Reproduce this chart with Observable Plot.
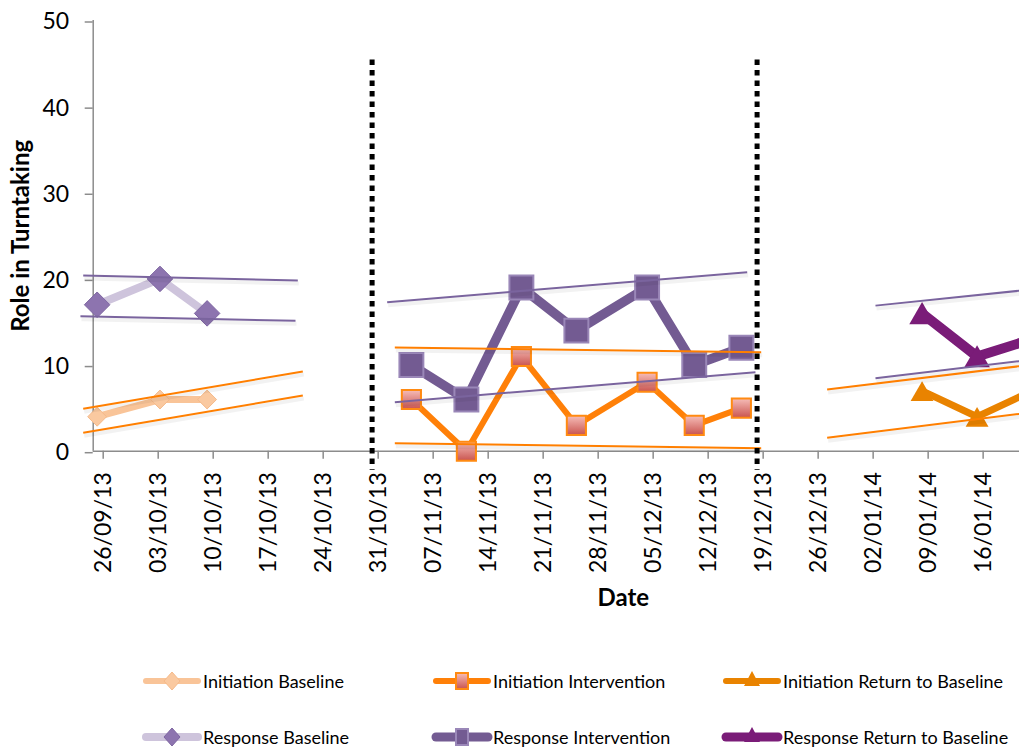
<!DOCTYPE html>
<html><head><meta charset="utf-8">
<script src="https://cdn.jsdelivr.net/npm/d3@7"></script>
<script src="https://cdn.jsdelivr.net/npm/@observablehq/plot@0.6"></script>
<style>
html,body{margin:0;padding:0;background:#fff;overflow:hidden;}
#wrap{position:relative;width:1019px;height:749px;font-family:Lato,sans-serif;}
.leg{position:absolute;display:flex;align-items:center;font-size:18px;color:#000;white-space:nowrap;height:30px;}
.leg svg{display:block;}
</style></head><body>
<svg width="0" height="0" style="position:absolute">
  <defs>
    <linearGradient id="sqFill" x1="0" y1="0" x2="0" y2="1">
      <stop offset="0" stop-color="#F6BDB8"/>
      <stop offset="1" stop-color="#C9544F"/>
    </linearGradient>
  </defs>
</svg>
<div id="wrap"><div id="chart"></div></div>
<script>
// ---------------- data ----------------
const baselineDates = ["2013-09-26", "2013-10-04", "2013-10-10"];
const initiationBaseline = [4, 6, 6];
const responseBaseline = [17, 20, 16];

const interventionDates = ["2013-11-05", "2013-11-12", "2013-11-19", "2013-11-26", "2013-12-05", "2013-12-11", "2013-12-17"];
const initiationIntervention = [6, 0, 11, 3, 8, 3, 5];
const responseIntervention = [10, 6, 19, 14, 19, 10, 12];

const returnDates = ["2014-01-09", "2014-01-16", "2014-01-23"];
const initiationReturn = [7, 4, 7];
const responseReturn = [16, 11, 13];

const phaseChangeDates = ["2013-10-31", "2013-12-19"];
const phaseLineRange = [45.4, -2.2];

const xTickDates = ["2013-09-26", "2013-10-03", "2013-10-10", "2013-10-17", "2013-10-24", "2013-10-31",
  "2013-11-07", "2013-11-14", "2013-11-21", "2013-11-28", "2013-12-05", "2013-12-12", "2013-12-19",
  "2013-12-26", "2014-01-02", "2014-01-09", "2014-01-16"];
const yTicks = [0, 10, 20, 30, 40, 50];
const xDomain = ["2013-09-26T00:00Z", "2014-01-21T21:36Z"];

// trend / band lines (start date, start value, end date, end value)
const trendMeasure = ["Initiation", "Initiation", "Response", "Response",
  "Response", "Response", "Initiation", "Initiation",
  "Response", "Response", "Initiation", "Initiation"];
const trendStart = ["2013-09-24T17:30Z", "2013-09-24T17:30Z", "2013-09-24T17:30Z", "2013-09-24T09:00Z",
  "2013-11-02T10:00Z", "2013-11-03T09:20Z", "2013-11-03T09:20Z", "2013-11-03T09:20Z",
  "2014-01-03T13:40Z", "2014-01-03T13:40Z", "2013-12-28T10:00Z", "2013-12-28T10:00Z"];
const trendStartValue = [4.92, 2.14, 20.4, 15.67, 17.3, 5.69, 12.04, 0.93, 16.9, 8.48, 7.16, 1.55];
const trendEnd = ["2013-10-22T16:20Z", "2013-10-22T16:20Z", "2013-10-22T01:00Z", "2013-10-21T18:00Z",
  "2013-12-18T05:45Z", "2013-12-19T07:00Z", "2013-12-20T00:30Z", "2013-12-20T00:30Z",
  "2014-01-22T00:00Z", "2014-01-22T00:00Z", "2014-01-22T00:00Z", "2014-01-22T00:00Z"];
const trendEndValue = [9.25, 6.47, 19.82, 15.14, 20.78, 9.17, 11.5, 0.35, 18.64, 10.46, 9.88, 4.35];

// ---------------- build ----------------
const parse = s => new Date(s.length === 10 ? s + "T00:00Z" : s);
const mid = d => new Date(+d + 12 * 3600e3);   // centre of the day slot
const rows = (dates, vals) => dates.map((d, i) => ({date: mid(parse(d)), value: vals[i]}));

const ib = rows(baselineDates, initiationBaseline);
const rb = rows(baselineDates, responseBaseline);
const ii = rows(interventionDates, initiationIntervention);
const ri = rows(interventionDates, responseIntervention);
const ir = rows(returnDates, initiationReturn);
const rr = rows(returnDates, responseReturn);
const trends = trendMeasure.map((m, i) => ({
  measure: m, x1: parse(trendStart[i]), y1: trendStartValue[i], x2: parse(trendEnd[i]), y2: trendEndValue[i]
}));
const phases = phaseChangeDates.map(d => ({date: mid(parse(d))}));

const AX = "#8c8c8c";
const C = {
  peach: "#F9C498", lav: "#CEC4DC", purpleDia: "#8D74AF",
  orange: "#FF8008", purple: "#735B92", orangeR: "#E98300", purpleR: "#7A1C78",
  tOrange: "#FF7F00", tPurple: "#7A649E"
};

const H = 630;
const chart = Plot.plot({
  width: 1019, height: H,
  marginLeft: 92.7, marginRight: 0, marginTop: 20, marginBottom: H - 450.7,
  style: {fontFamily: "Lato, sans-serif", background: "white", color: "black"},
  x: {type: "utc", domain: xDomain.map(parse)},
  y: {domain: [0, 50]},
  marks: [
    Plot.ruleY([0], {stroke: AX, strokeWidth: 1.5}),
    Plot.ruleX([parse(xDomain[0])], {stroke: AX, strokeWidth: 1.5}),
    Plot.axisY({ticks: yTicks, tickSize: 8, tickPadding: 16, fontSize: 23, stroke: AX, strokeWidth: 1.5, fill: "black", dy: 1.5, label: null}),
    Plot.axisX({ticks: xTickDates.map(parse), tickFormat: d3.utcFormat("%d/%m/%y"), tickRotate: -90,
      tickSize: 8, tickPadding: 13, fontSize: 23, stroke: AX, strokeWidth: 1.5, fill: "black", dx: 10, label: null}),
    Plot.text(["Role in Turntaking"], {frameAnchor: "left", rotate: -90, dx: -72, fontSize: 24, fontWeight: "bold",
      textAnchor: "middle", lineAnchor: "middle"}),
    Plot.text(["Date"], {frameAnchor: "bottom", dx: 67, dy: 147, fontSize: 24, fontWeight: "bold",
      textAnchor: "middle", lineAnchor: "middle"}),

    // Initiation series
    Plot.line(ib, {x: "date", y: "value", stroke: C.peach, strokeWidth: 7, strokeLinejoin: "round"}),
    Plot.dot(ib, {x: "date", y: "value", symbol: "diamond2", r: 8.5, fill: "#FAC9A0", stroke: "#F5BA8A", strokeWidth: 1}),
    Plot.line(ii, {x: "date", y: "value", stroke: C.orange, strokeWidth: 6, strokeLinejoin: "round"}),
    Plot.dot(ii, {x: "date", y: "value", symbol: "square", r: 10.8, fill: "url(#sqFill)", stroke: "#FF8A12", strokeWidth: 2}),
    Plot.line(ir, {x: "date", y: "value", stroke: C.orangeR, strokeWidth: 7, strokeLinejoin: "round", clip: true}),
    Plot.dot(ir, {x: "date", y: "value", symbol: "triangle", r: 8.5, fill: C.orangeR, dy: 3.5, clip: true}),

    // Response series
    Plot.line(rb, {x: "date", y: "value", stroke: C.lav, strokeWidth: 8, strokeLinejoin: "round"}),
    Plot.dot(rb, {x: "date", y: "value", symbol: "diamond2", r: 11.5, fill: C.purpleDia, stroke: "#7E66A2", strokeWidth: 1}),
    Plot.line(ri, {x: "date", y: "value", stroke: C.purple, strokeWidth: 9.5, strokeLinejoin: "round"}),
    Plot.dot(ri, {x: "date", y: "value", symbol: "square", r: 13.5, fill: C.purple, stroke: "#9A87B8", strokeWidth: 2}),
    Plot.line(rr, {x: "date", y: "value", stroke: C.purpleR, strokeWidth: 10, strokeLinejoin: "round", clip: true}),
    Plot.dot(rr, {x: "date", y: "value", symbol: "triangle", r: 9.5, fill: C.purpleR, dy: 3.5, clip: true}),

    // trend band lines with soft shadow
    Plot.link(trends, {x1: "x1", y1: "y1", x2: "x2", y2: "y2", stroke: "#000", strokeOpacity: 0.05, strokeWidth: 4, dx: 1, dy: 3}),
    Plot.link(trends, {x1: "x1", y1: "y1", x2: "x2", y2: "y2",
      stroke: d => d.measure === "Initiation" ? C.tOrange : C.tPurple, strokeWidth: 2}),

    // phase change lines
    Plot.ruleX(phases, {x: "date", y1: phaseLineRange[0], y2: phaseLineRange[1], stroke: "black", strokeWidth: 5, strokeDasharray: "5.5,5"})
  ]
});
document.getElementById("chart").appendChild(chart);

// ---------------- legend ----------------
const legendItems = [
  {label: "Initiation Baseline", line: C.peach, w: 6, sym: "diamond", fill: "#FAC9A0", stroke: "#F5BA8A", col: 0, row: 0},
  {label: "Initiation Intervention", line: C.orange, w: 6, sym: "square", fill: "url(#sqFill)", stroke: "#FF8A12", col: 1, row: 0},
  {label: "Initiation Return to Baseline", line: C.orangeR, w: 6, sym: "triangle", fill: C.orangeR, stroke: "none", col: 2, row: 0},
  {label: "Response Baseline", line: C.lav, w: 8, sym: "diamond", fill: C.purpleDia, stroke: "#7E66A2", col: 0, row: 1},
  {label: "Response Intervention", line: C.purple, w: 9, sym: "square", fill: C.purple, stroke: "#9A87B8", col: 1, row: 1},
  {label: "Response Return to Baseline", line: C.purpleR, w: 9, sym: "triangle", fill: C.purpleR, stroke: "none", col: 2, row: 1}
];
const colX = [141, 431, 721], rowY = [681, 737];
const wrap = document.getElementById("wrap");
for (const it of legendItems) {
  const div = document.createElement("div");
  div.className = "leg";
  div.style.left = colX[it.col] + "px";
  div.style.top = (rowY[it.row] - 15) + "px";
  let m = "";
  if (it.sym === "diamond") m = `<path d="M31,6 L39,15 L31,24 L23,15 Z" fill="${it.fill}" stroke="${it.stroke}"/>`;
  if (it.sym === "square") m = `<rect x="25" y="7" width="12" height="16" fill="${it.fill}" stroke="${it.stroke}" stroke-width="2"/>`;
  if (it.sym === "triangle") m = `<path d="M31,5 L39,20 L23,20 Z" fill="${it.fill}"/>`;
  div.innerHTML = `<svg width="62" height="30"><line x1="5" y1="15" x2="57" y2="15" stroke="${it.line}" stroke-width="${it.w}" stroke-linecap="round"/>${m}</svg><span>${it.label}</span>`;
  wrap.appendChild(div);
}
</script>
</body></html>
